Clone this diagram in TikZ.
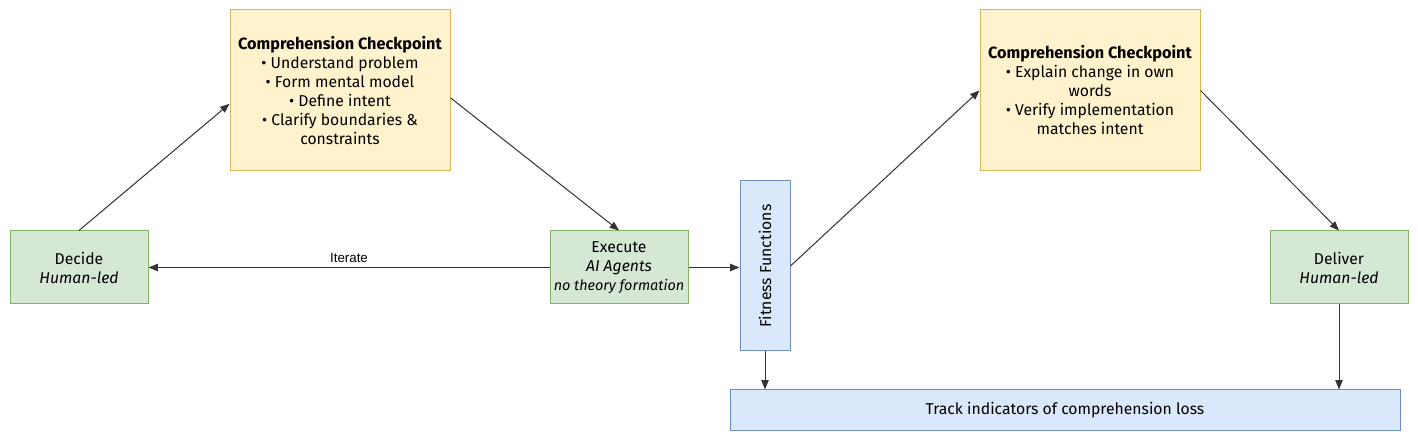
\documentclass[tikz,border=0pt]{standalone}
\usepackage{fontspec}
\setmainfont{Fira Sans}
\newfontfamily\arialfont{Liberation Sans}
\usetikzlibrary{arrows.meta}
\definecolor{greenfill}{HTML}{D5E8D4}
\definecolor{greenline}{HTML}{82B366}
\definecolor{yellowfill}{HTML}{FFF2CC}
\definecolor{yellowline}{HTML}{D6B656}
\definecolor{bluefill}{HTML}{DAE8FC}
\definecolor{blueline}{HTML}{6C8EBF}
\definecolor{linegray}{HTML}{333333}
\begin{document}
\begin{tikzpicture}[x=0.75pt, y=-0.75pt,
  every node/.style={font=\fontsize{11.8}{14.25}\selectfont},
  stagebox/.style={draw=greenline, fill=greenfill, line width=0.75pt, align=center,
    minimum width=103.5pt, minimum height=54.75pt, inner sep=0pt},
  checkbox/.style={draw=yellowline, fill=yellowfill, line width=0.75pt, align=center,
    minimum width=165pt, minimum height=120.75pt, inner sep=0pt},
  gatebox/.style={draw=blueline, fill=bluefill, line width=0.75pt, align=center, inner sep=0pt},
  flow/.style={draw=linegray, line width=0.75pt, -{Triangle[length=7pt,width=5.5pt]}}]
\useasboundingbox (0,0) rectangle (1418,448);

\node[stagebox] (decide) at (79,267.5) {Decide\\\textit{Human-led}};
\node[checkbox] (check1) at (340,90.5) {{\fontsize{12.2}{14.25}\selectfont\textbf{Comprehension Checkpoint}}\\
  • Understand problem\\ • Form mental model\\ • Define intent\\
  • Clarify boundaries \&\\ constraints};
\node[stagebox] (execute) at (619,267.5) {Execute\\\textit{AI Agents}\\
  {\fontsize{10.8}{14.25}\selectfont\textit{no theory formation}}};
\node[gatebox, minimum width=37.5pt, minimum height=127.5pt,
  label={[rotate=90]center:Fitness Functions}] (fitness) at (765,266) {};
\node[checkbox] (check2) at (1090,90.5) {{\fontsize{12.2}{14.25}\selectfont\textbf{Comprehension Checkpoint}}\\
  • Explain change in own\\ words\\ • Verify implementation\\ matches intent};
\node[stagebox] (deliver) at (1339,267.5) {Deliver\\\textit{Human-led}};
\node[gatebox, minimum width=502.5pt, minimum height=30.75pt] (track) at (1065,410.5)
  {Track indicators of comprehension loss};

\path[flow] (decide.north) -- ([yshift=-10pt]check1.west);
\path[flow] ([yshift=-5.5pt]check1.east) -- (execute.north);
\path[flow] (execute.west) -- node[above, font=\arialfont\fontsize{10}{12}\selectfont] {Iterate} (decide.east);
\path[flow] (execute.east) -- (execute.east -| fitness.west);
\path[flow] (fitness.east) -- (check2.west);
\path[flow] (check2.east) -- (deliver.north);
\path[flow] (fitness.south) -- (fitness.south |- track.north);
\path[flow] (deliver.south) -- (deliver.south |- track.north);
\end{tikzpicture}
\end{document}
